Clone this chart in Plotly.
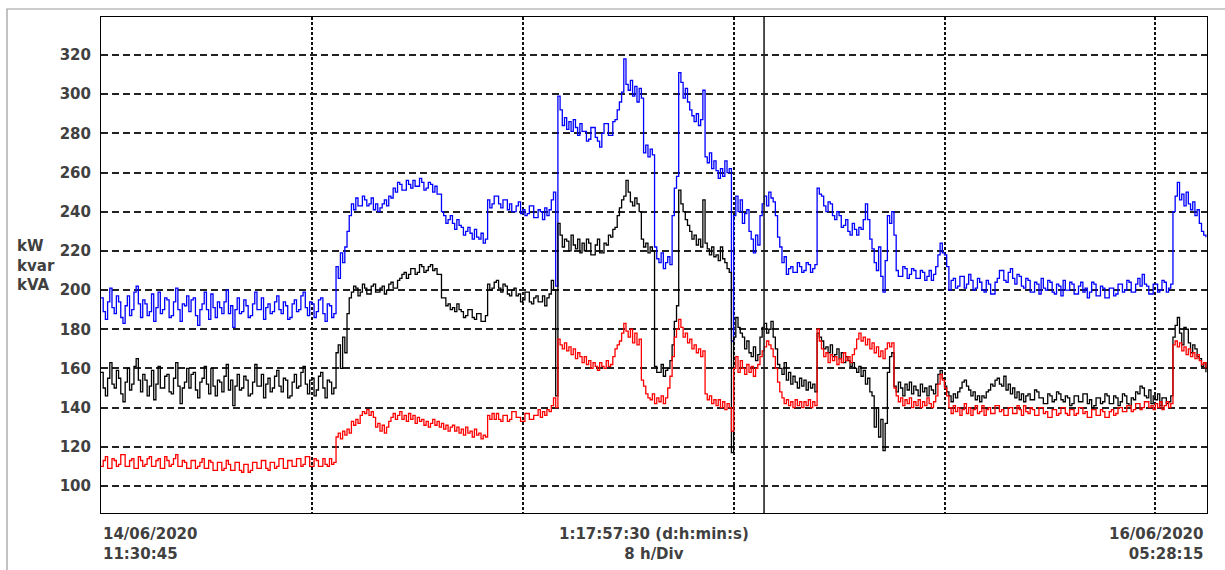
import plotly.graph_objects as go
import pandas as pd

START = "2020-06-14 11:30:45"
END = "2020-06-16 05:28:15"
CURSOR = "2020-06-15 12:40:00"
STEP = "5min"

# kVA (blue), one value every 5 minutes (20 values = 100 min per row)
kva = [
    196, 189, 185, 194, 201, 191, 188, 197, 194, 186, 183, 192, 197, 187, 190, 199, 202, 193, 186, 195,
    193, 187, 189, 198, 184, 191, 199, 188, 190, 196, 195, 186, 187, 194, 201, 190, 184, 193, 192, 197,
    189, 195, 196, 187, 182, 190, 193, 199, 190, 185, 198, 191, 186, 194, 191, 188, 194, 200, 188, 192,
    181, 190, 196, 188, 189, 195, 192, 186, 187, 193, 199, 190, 190, 196, 185, 191, 193, 188, 189, 194,
    197, 190, 188, 194, 192, 185, 186, 193, 195, 189, 190, 197, 199, 191, 187, 194, 193, 186, 189, 195,
    196, 188, 184, 193, 192, 186, 188, 212, 206, 219, 214, 222, 230, 238, 244, 241, 247, 243, 243, 248,
    246, 243, 244, 247, 241, 244, 240, 242, 244, 246, 243, 248, 247, 252, 250, 255, 254, 251, 251, 256,
    254, 252, 256, 253, 253, 257, 255, 251, 252, 255, 254, 250, 253, 249, 249, 240, 238, 234, 236, 238,
    234, 231, 236, 233, 232, 228, 230, 232, 229, 226, 231, 227, 226, 229, 224, 226, 246, 242, 244, 248,
    248, 244, 242, 246, 246, 241, 244, 240, 240, 243, 245, 239, 241, 238, 239, 243, 243, 237, 237, 241,
    240, 236, 242, 238, 241, 246, 250, 202, 299, 292, 284, 288, 282, 286, 281, 287, 283, 279, 285, 281,
    281, 276, 277, 283, 283, 278, 276, 273, 280, 285, 285, 279, 279, 286, 287, 292, 296, 301, 318, 305,
    302, 307, 299, 304, 296, 303, 298, 270, 274, 268, 272, 269, 222, 216, 214, 219, 211, 214, 217, 213,
    238, 252, 258, 311, 306, 298, 303, 296, 292, 289, 286, 290, 284, 287, 302, 268, 265, 270, 262, 266,
    261, 257, 262, 258, 266, 260, 262, 174, 238, 248, 240, 246, 234, 239, 241, 230, 226, 219, 228, 223,
    238, 244, 248, 243, 250, 247, 245, 238, 227, 222, 214, 217, 208, 211, 212, 209, 209, 214, 212, 209,
    210, 214, 213, 209, 211, 213, 252, 249, 248, 243, 240, 245, 244, 238, 236, 240, 238, 232, 233, 236,
    230, 228, 234, 231, 228, 232, 231, 236, 244, 236, 226, 221, 214, 210, 222, 207, 199, 215, 238, 234,
    240, 228, 210, 207, 207, 212, 211, 206, 208, 211, 210, 206, 206, 210, 209, 205, 207, 210, 205, 208,
    212, 218, 224, 219, 218, 212, 200, 205, 206, 201, 202, 207, 207, 201, 203, 208, 205, 200, 201, 206,
    204, 200, 199, 205, 203, 198, 198, 204, 206, 210, 210, 205, 204, 209, 211, 206, 203, 208, 207, 202,
    201, 206, 205, 199, 199, 204, 203, 198, 206, 201, 200, 205, 204, 199, 198, 203, 202, 197, 205, 200,
    200, 204, 203, 198, 198, 202, 204, 199, 201, 196, 199, 204, 203, 197, 197, 202, 201, 196, 196, 201,
    201, 197, 198, 203, 203, 199, 200, 205, 204, 199, 199, 203, 206, 202, 208, 203, 202, 198, 198, 203,
    203, 199, 200, 205, 204, 199, 201, 203, 240, 248, 255, 246, 249, 243, 250, 244, 241, 245, 238, 241,
    234, 230, 228, 227,
]

# kW (black)
kw = [
    158, 150, 146, 155, 163, 152, 150, 159, 155, 147, 143, 153, 160, 149, 152, 161, 165, 154, 148, 157,
    154, 146, 151, 159, 144, 152, 161, 150, 150, 156, 157, 148, 147, 155, 163, 151, 142, 150, 153, 160,
    150, 157, 158, 149, 145, 153, 155, 161, 152, 147, 160, 151, 146, 154, 153, 148, 156, 162, 149, 154,
    141, 151, 157, 149, 150, 156, 154, 146, 147, 153, 162, 151, 151, 157, 145, 152, 155, 148, 150, 156,
    159, 151, 148, 155, 154, 145, 146, 153, 157, 150, 151, 158, 161, 152, 147, 154, 155, 146, 149, 156,
    158, 150, 145, 154, 153, 147, 150, 168, 172, 160, 176, 168, 188, 196, 199, 202, 201, 197, 199, 203,
    201, 198, 198, 202, 203, 199, 199, 201, 202, 198, 200, 203, 204, 201, 201, 205, 206, 208, 209, 206,
    208, 211, 211, 208, 209, 213, 212, 209, 210, 212, 213, 210, 211, 208, 208, 196, 196, 192, 193, 190,
    191, 189, 193, 190, 189, 186, 187, 190, 190, 186, 185, 188, 188, 184, 184, 187, 203, 200, 201, 204,
    205, 201, 199, 203, 202, 198, 197, 200, 201, 197, 198, 194, 195, 199, 199, 194, 193, 196, 197, 194,
    194, 197, 192, 196, 198, 205, 200, 146, 234, 228, 222, 226, 225, 220, 228, 223, 221, 226, 219, 224,
    220, 226, 224, 218, 218, 223, 226, 219, 219, 224, 223, 228, 227, 231, 232, 238, 242, 246, 248, 256,
    250, 245, 243, 247, 244, 240, 226, 222, 224, 219, 222, 220, 161, 158, 158, 162, 156, 159, 160, 164,
    172, 184, 192, 251, 244, 240, 236, 233, 230, 226, 228, 223, 226, 222, 246, 224, 221, 218, 222, 217,
    218, 215, 222, 216, 214, 211, 209, 117, 176, 186, 181, 178, 176, 170, 174, 168, 166, 171, 164, 167,
    176, 181, 183, 178, 180, 184, 176, 170, 162, 160, 157, 163, 154, 158, 152, 156, 153, 150, 155, 151,
    154, 149, 153, 150, 152, 148, 178, 176, 174, 170, 171, 168, 172, 166, 167, 170, 165, 168, 163, 166,
    164, 161, 163, 160, 158, 161, 156, 159, 152, 155, 148, 146, 130, 140, 125, 134, 118, 132, 158, 166,
    168, 151, 148, 153, 150, 146, 152, 149, 153, 147, 151, 149, 146, 152, 148, 150, 146, 151, 149, 147,
    152, 157, 159, 155, 151, 148, 146, 143, 147, 145, 148, 150, 153, 154, 151, 149, 146, 148, 144, 146,
    143, 146, 145, 148, 149, 152, 151, 154, 155, 152, 151, 156, 149, 152, 147, 150, 145, 148, 144, 147,
    143, 146, 147, 144, 144, 149, 148, 145, 145, 142, 142, 147, 146, 143, 144, 148, 147, 144, 143, 146,
    145, 141, 142, 146, 146, 143, 143, 147, 147, 142, 144, 140, 141, 145, 145, 142, 143, 147, 146, 142,
    142, 146, 145, 141, 143, 147, 146, 142, 141, 145, 144, 148, 147, 151, 150, 146, 145, 149, 142, 146,
    144, 147, 141, 145, 145, 142, 143, 146, 176, 182, 186, 178, 172, 181, 180, 173, 168, 172, 170, 166,
    165, 161, 163, 158,
]

# kvar (red)
kvar = [
    110, 113, 115, 109, 109, 114, 113, 110, 111, 116, 116, 110, 110, 113, 114, 109, 109, 115, 113, 110,
    111, 114, 115, 110, 110, 113, 114, 109, 109, 115, 113, 110, 111, 114, 116, 110, 110, 113, 112, 109,
    109, 113, 113, 109, 110, 112, 114, 109, 109, 113, 112, 108, 108, 112, 112, 108, 109, 113, 111, 108,
    108, 112, 112, 108, 107, 111, 111, 107, 108, 112, 112, 109, 109, 113, 113, 109, 108, 112, 112, 109,
    110, 114, 114, 109, 109, 113, 113, 110, 110, 114, 114, 110, 111, 115, 115, 110, 110, 114, 113, 110,
    110, 114, 111, 110, 114, 111, 112, 125, 127, 124, 128, 126, 129, 127, 133, 131, 134, 132, 136, 138,
    137, 139, 136, 138, 135, 130, 132, 128, 131, 127, 130, 133, 135, 137, 134, 136, 138, 134, 136, 133,
    137, 134, 136, 132, 135, 133, 134, 131, 133, 130, 132, 134, 131, 133, 130, 132, 129, 131, 128, 130,
    131, 128, 130, 127, 129, 126, 130, 127, 128, 125, 129, 126, 127, 124, 126, 125, 136, 134, 137, 134,
    137, 134, 133, 136, 136, 133, 134, 138, 138, 135, 135, 133, 133, 137, 137, 134, 134, 136, 136, 139,
    135, 138, 136, 139, 138, 141, 145, 140, 175, 172, 170, 173, 169, 171, 167, 170, 165, 168, 166, 163,
    166, 162, 164, 160, 163, 161, 159, 163, 161, 160, 164, 161, 162, 166, 170, 172, 174, 178, 183, 179,
    176, 180, 173, 178, 172, 175, 154, 151, 147, 145, 144, 147, 142, 145, 143, 146, 142, 145, 150, 156,
    166, 176, 180, 185, 181, 176, 178, 173, 175, 170, 172, 168, 170, 166, 169, 147, 144, 146, 142, 144,
    141, 144, 140, 143, 139, 142, 140, 128, 160, 166, 158, 164, 160, 157, 162, 158, 161, 156, 160, 162,
    166, 169, 171, 174, 172, 170, 166, 160, 153, 148, 145, 142, 144, 141, 143, 140, 144, 141, 143, 140,
    143, 141, 144, 140, 143, 141, 180, 174, 170, 166, 168, 163, 167, 164, 166, 162, 165, 163, 168, 164,
    166, 163, 167, 170, 175, 178, 174, 176, 172, 175, 170, 173, 168, 171, 166, 169, 165, 170, 173, 171,
    173, 150, 146, 143, 145, 141, 144, 142, 145, 140, 143, 141, 144, 140, 143, 141, 145, 142, 140, 143,
    146, 152, 157, 154, 150, 146, 140, 137, 141, 138, 140, 136, 139, 142, 137, 140, 136, 139, 141, 137,
    138, 141, 136, 139, 140, 137, 137, 141, 141, 138, 139, 136, 136, 140, 140, 137, 137, 141, 139, 136,
    141, 138, 137, 140, 139, 136, 136, 140, 140, 137, 138, 135, 135, 139, 139, 136, 137, 140, 140, 137,
    136, 139, 139, 136, 137, 140, 140, 137, 138, 135, 135, 139, 139, 136, 136, 139, 138, 135, 135, 138,
    139, 136, 137, 140, 140, 138, 138, 141, 141, 138, 139, 142, 142, 139, 140, 143, 143, 140, 141, 139,
    142, 140, 143, 139, 141, 143, 140, 142, 172, 174, 171, 173, 169, 171, 167, 170, 166, 168, 165, 167,
    164, 162, 163, 160,
]

y_ticks = [100, 120, 140, 160, 180, 200, 220, 240, 260, 280, 300, 320]
y_range = [86.2, 339.4]
unit_labels = ["kW", "kvar", "kVA"]
start_label = "14/06/2020<br>11:30:45"
mid_label = "1:17:57:30 (d:h:min:s)<br>8 h/Div"
end_label = "16/06/2020<br>05:28:15"

FONT = dict(family="DejaVu Sans", size=15, color="#404040", weight="bold")


def times(n):
    return pd.date_range(START, periods=n, freq=STEP)


fig = go.Figure()
for vals, col in [(kva, "#0000ff"), (kw, "#000000"), (kvar, "#ff0000")]:
    fig.add_trace(go.Scatter(
        x=times(len(vals)), y=vals, mode="lines",
        line=dict(color=col, width=1.3, shape="hv"),
        showlegend=False, hoverinfo="skip",
    ))

fig.add_shape(type="line", xref="x", yref="paper", x0=CURSOR, x1=CURSOR,
              y0=0, y1=1, line=dict(color="#222222", width=1.6))

# outer frame
fig.add_shape(type="rect", xref="paper", yref="paper",
              x0=-0.085, x1=1.02, y0=-0.13, y1=1.0161,
              line=dict(color="#9a9a9a", width=1.2), layer="below")

fig.update_layout(
    width=1225, height=570,
    margin=dict(l=101, r=18, t=17, b=57),
    paper_bgcolor="white", plot_bgcolor="white",
    font=FONT,
    showlegend=False,
)

fig.update_xaxes(
    type="date", range=[START, END],
    showticklabels=False, ticks="",
    tick0=START, dtick=8 * 3600 * 1000,
    showgrid=True, gridcolor="#111111", gridwidth=1.7, griddash="3px,2px",
    showline=True, linecolor="#000000", linewidth=1, mirror=True,
    zeroline=False,
)
fig.update_yaxes(
    range=y_range, tickvals=y_ticks, ticktext=[str(v) for v in y_ticks],
    ticks="", ticklabelstandoff=6,
    showgrid=True, gridcolor="#222222", gridwidth=1.5, griddash="7px,4px",
    showline=True, linecolor="#000000", linewidth=1, mirror=True,
    zeroline=False, tickfont=FONT,
)

fig.add_annotation(xref="paper", yref="paper", x=0, y=0, yshift=-10,
                   xanchor="left", yanchor="top", align="left",
                   text=start_label, showarrow=False, font=FONT)
fig.add_annotation(xref="paper", yref="paper", x=0.5, y=0, yshift=-10,
                   xanchor="center", yanchor="top", align="center",
                   text=mid_label, showarrow=False, font=FONT)
fig.add_annotation(xref="paper", yref="paper", x=0.998, y=0, yshift=-10,
                   xanchor="right", yanchor="top", align="right",
                   text=end_label, showarrow=False, font=FONT)
fig.add_annotation(xref="paper", yref="paper", x=-0.078, y=0.498,
                   xanchor="left", yanchor="middle", align="left",
                   text="<br>".join(unit_labels), showarrow=False, font=FONT)

fig.write_html("out.html")
